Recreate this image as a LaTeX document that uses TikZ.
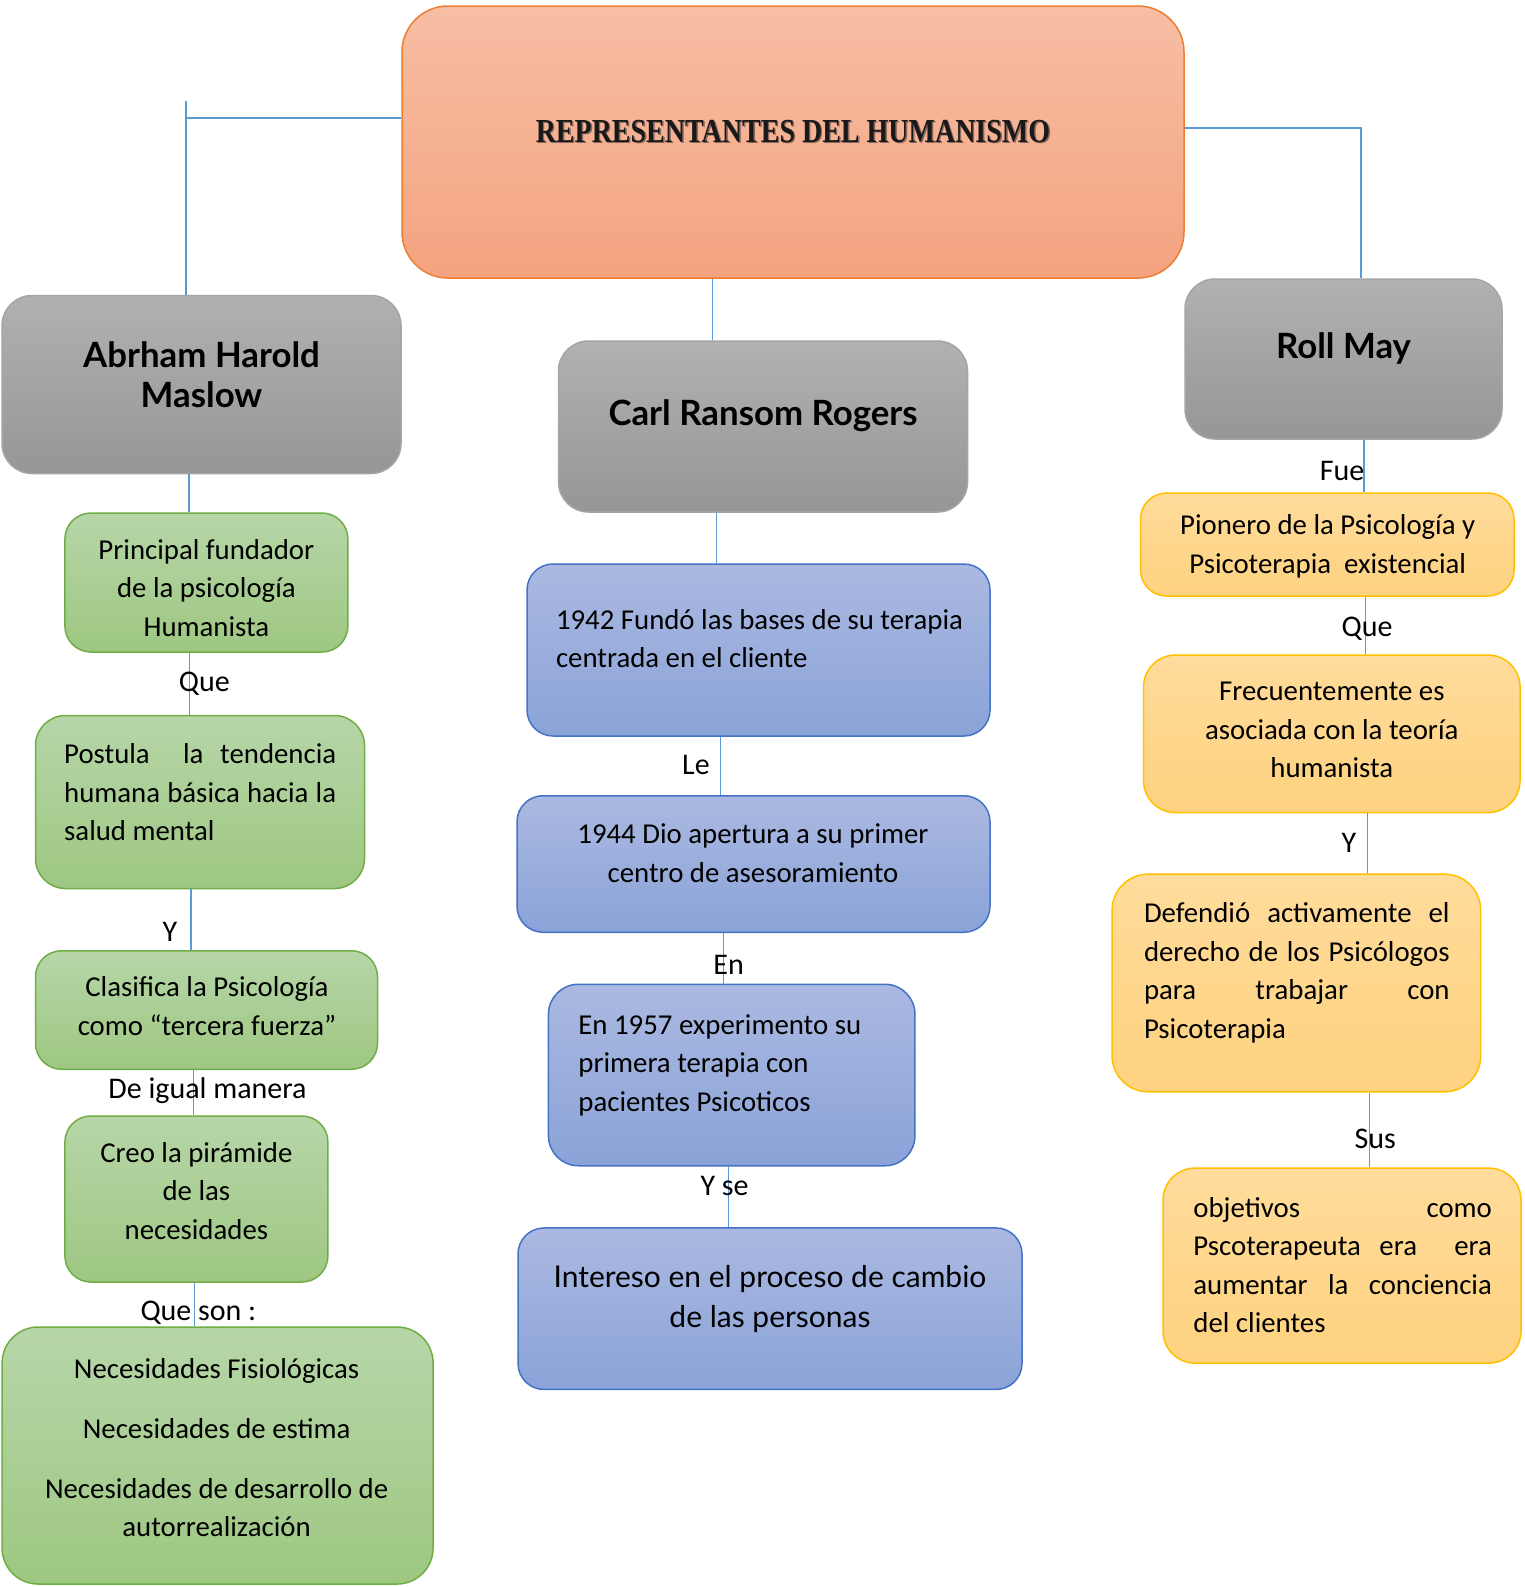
\documentclass[tikz,border=0pt]{standalone}
\usepackage{fontspec}
\setmainfont{Carlito}
\newfontfamily\headfont{Lato}
\newfontfamily\titlefont{Liberation Serif}
\usetikzlibrary{positioning}

\definecolor{lineblue}{HTML}{5B9BD5}
\definecolor{titletop}{HTML}{F7BEA5}
\definecolor{titlebot}{HTML}{F4A37F}
\definecolor{titleline}{HTML}{ED7D31}
\definecolor{titleshade}{HTML}{8A6A5C}
\definecolor{graytop}{HTML}{B1B1B1}
\definecolor{graybot}{HTML}{969696}
\definecolor{grayline}{HTML}{A5A5A5}
\definecolor{greentop}{HTML}{B6D6A8}
\definecolor{greenbot}{HTML}{9EC782}
\definecolor{greenline}{HTML}{70AD47}
\definecolor{bluetop}{HTML}{ABB9E1}
\definecolor{bluebot}{HTML}{8AA3D8}
\definecolor{blueline}{HTML}{4472C4}
\definecolor{yeltop}{HTML}{FFDC9C}
\definecolor{yelbot}{HTML}{FED27F}
\definecolor{yelline}{HTML}{FFC000}

\begin{document}
\begin{tikzpicture}[x=0.5pt, y=-0.5pt,
line/.style={draw=lineblue, line width=0.6pt},
box/.style={rectangle, rounded corners=13pt, line width=0.75pt},
titlebox/.style={box, rounded corners=23pt, top color=titletop, bottom color=titlebot, draw=titleline},
graybox/.style={box, rounded corners=15pt, top color=graytop, bottom color=graybot, draw=grayline},
greenbox/.style={box, top color=greentop, bottom color=greenbot, draw=greenline},
bluebox/.style={box, top color=bluetop, bottom color=bluebot, draw=blueline},
yelbox/.style={box, top color=yeltop, bottom color=yelbot, draw=yelline},
txt/.style={inner sep=0pt, font={\fontsize{14.4}{19.25}\selectfont}},
headtxt/.style={inner sep=0pt, align=center, font={\headfont\bfseries\fontsize{17.4}{20.2}\selectfont}},
lbl/.style={inner sep=0pt, font={\fontsize{15}{17}\selectfont}}]
\useasboundingbox (0,0) rectangle (1525,1587);

% title and the three authors
\node [titlebox, minimum width=391pt, minimum height=136pt] (title) at (793,142) {};
\node [inner sep=0pt, text=black!90] (titletxt) at (793,132)
  {\titlefont\bfseries\fontsize{14}{18}\selectfont
   \rlap{\kern0.7pt\raisebox{-0.7pt}{\textcolor{titleshade}{\scalebox{1}[1.2]{REPRESENTANTES DEL HUMANISMO}}}}%
   \scalebox{1}[1.2]{REPRESENTANTES DEL HUMANISMO}};

\node [graybox, minimum width=199.5pt, minimum height=89pt] (maslow) at (201.5,384.5) {};
\node [headtxt] (maslowtxt) at (201.5,374.5) {Abrham Harold\\Maslow};
\node [graybox, minimum width=204.5pt, minimum height=85.5pt] (carl) at (763,426.5) {};
\node [headtxt] (carltxt) at (763,416) {Carl Ransom Rogers};
\node [graybox, minimum width=158.5pt, minimum height=80pt] (roll) at (1343.5,359) {};
\node [headtxt] (rolltxt) at (1343.5,348) {Roll May};

\coordinate (lcorner) at (186,118);
\coordinate (ltop) at (186,101);
\coordinate (rcorner) at (1361,128);
\draw [line] (title.west |- lcorner) -- (lcorner);
\draw [line] (ltop) -- (ltop |- maslow.north);
\draw [line] (title.east |- rcorner) -- (rcorner) -- (rcorner |- roll.north);
\draw [line] (712.5,0 |- title.south) -- (712.5,0 |- carl.north);

% Maslow
\node [greenbox, minimum width=141.5pt, minimum height=69.5pt] (g1) at (206.4,582.5) {};
\node [txt, align=center] (g1txt) at (206.4,588) {Principal fundador\\de la psicología\\Humanista};
\node [greenbox, rounded corners=15pt, minimum width=164.5pt, minimum height=86.5pt] (g2) at (200,802) {};
\node [txt, align=justify, text width=136pt, anchor=west] (g2txt) at (63.8,792.5)
  {Postula\ \ la tendencia\linebreak humana básica hacia la\linebreak salud mental};
\node [greenbox, minimum width=171pt, minimum height=59.25pt] (g3) at (206.5,1010) {};
\node [txt, align=center] (g3txt) at (207,1006) {Clasifica la Psicología\\como “tercera fuerza”};
\node [greenbox, minimum width=131.5pt, minimum height=83pt] (g4) at (196.4,1199) {};
\node [txt, align=center] (g4txt) at (196.4,1191) {Creo la pirámide\\de las\\necesidades};
\node [greenbox, rounded corners=18pt, minimum width=215.5pt, minimum height=128.5pt] (g5) at (217.6,1455.5) {};
\node [txt, align=center] (g5txt) at (216.6,1447.5)
  {Necesidades Fisiológicas\\[10.75pt]Necesidades de estima\\[10.75pt]Necesidades de desarrollo de\\autorrealización};

\draw [line] (189,0 |- maslow.south) -- (189,0 |- g1.north);
\draw [line] (189.2,0 |- g1.south) -- (189.2,0 |- g2.north);
\draw [line] (191,0 |- g2.south) -- (191,0 |- g3.north);
\draw [line] (193.3,0 |- g3.south) -- (193.3,0 |- g4.north);
\draw [line] (194.3,0 |- g4.south) -- (194.3,0 |- g5.north);
\node [lbl] (lque) at (204.4,684) {Que};
\node [lbl] (ly) at (170,932) {Y};
\node [lbl] (ligual) at (207.5,1091) {De igual manera};
\node [lbl] (lson) at (198.4,1312.5) {Que son :};

% Rogers
\node [bluebox, minimum width=231.5pt, minimum height=86pt] (b1) at (758.5,650) {};
\node [txt, align=left, anchor=west] (b1txt) at (555.6,638.5) {1942 Fundó las bases de su terapia\\centrada en el cliente};
\node [bluebox, minimum width=236.5pt, minimum height=68.25pt] (b2) at (753.5,864) {};
\node [txt, align=center] (b2txt) at (753,853) {1944 Dio apertura a su primer\\centro de asesoramiento};
\node [bluebox, rounded corners=15pt, minimum width=183.25pt, minimum height=90.75pt] (b3) at (731.7,1075) {};
\node [txt, align=left, anchor=west] (b3txt) at (578,1065) {En 1957 experimento su\\primera terapia con\\pacientes Psicoticos};
\node [bluebox, minimum width=252pt, minimum height=80.75pt] (b4) at (770,1308.7) {};
\node [inner sep=0pt, align=center, font={\headfont\fontsize{15}{20.25}\selectfont}] (b4txt) at (770,1299)
  {Intereso en el proceso de cambio\\de las personas};

\draw [line] (716.5,0 |- carl.south) -- (716.5,0 |- b1.north);
\draw [line] (720.5,0 |- b1.south) -- (720.5,0 |- b2.north);
\draw [line] (723.6,0 |- b2.south) -- (723.6,0 |- b3.north);
\draw [line] (728.6,0 |- b3.south) -- (728.6,0 |- b4.north);
\node [lbl] (lle) at (696,765) {Le};
\node [lbl] (len) at (728.6,964.5) {En};
\node [lbl] (lyse) at (724.6,1185.5) {Y se};

% May
\node [yelbox, minimum width=186.75pt, minimum height=51.5pt] (y1) at (1327.3,544.5) {};
\node [txt, align=center] (y1txt) at (1327.7,546.5) {Pionero de la Psicología y\\Psicoterapia\ \ existencial};
\node [yelbox, rounded corners=16pt, minimum width=188.25pt, minimum height=78.8pt] (y2) at (1331.8,733.8) {};
\node [txt, align=center] (y2txt) at (1331.8,730) {Frecuentemente es\\asociada con la teoría\\humanista};
\node [yelbox, rounded corners=18pt, minimum width=184.3pt, minimum height=108.8pt] (y3) at (1296.4,983) {};
\node [txt, align=justify, text width=152.8pt, anchor=west] (y3txt) at (1143.6,973)
  {Defendió activamente el\linebreak derecho de los Psicólogos\linebreak para trabajar con\linebreak Psicoterapia};
\node [yelbox, rounded corners=16pt, minimum width=179pt, minimum height=97.5pt] (y4) at (1342,1265.6) {};
\node [txt, align=justify, text width=149.25pt, anchor=west] (y4txt) at (1193,1265)
  {objetivos como\linebreak Pscoterapeuta era\ \ era\linebreak aumentar la conciencia\linebreak del clientes};

\draw [line] (1364,0 |- roll.south) -- (1364,0 |- y1.north);
\draw [line] (1365.2,0 |- y1.south) -- (1365.2,0 |- y2.north);
\draw [line] (1367.2,0 |- y2.south) -- (1367.2,0 |- y3.north);
\draw [line] (1369.2,0 |- y3.south) -- (1369.2,0 |- y4.north);
\node [lbl] (lfue) at (1342,470.6) {Fue};
\node [lbl] (lque2) at (1367,628.5) {Que};
\node [lbl] (ly2) at (1349,843) {Y};
\node [lbl] (lsus) at (1375.3,1139) {Sus};
\end{tikzpicture}
\end{document}
